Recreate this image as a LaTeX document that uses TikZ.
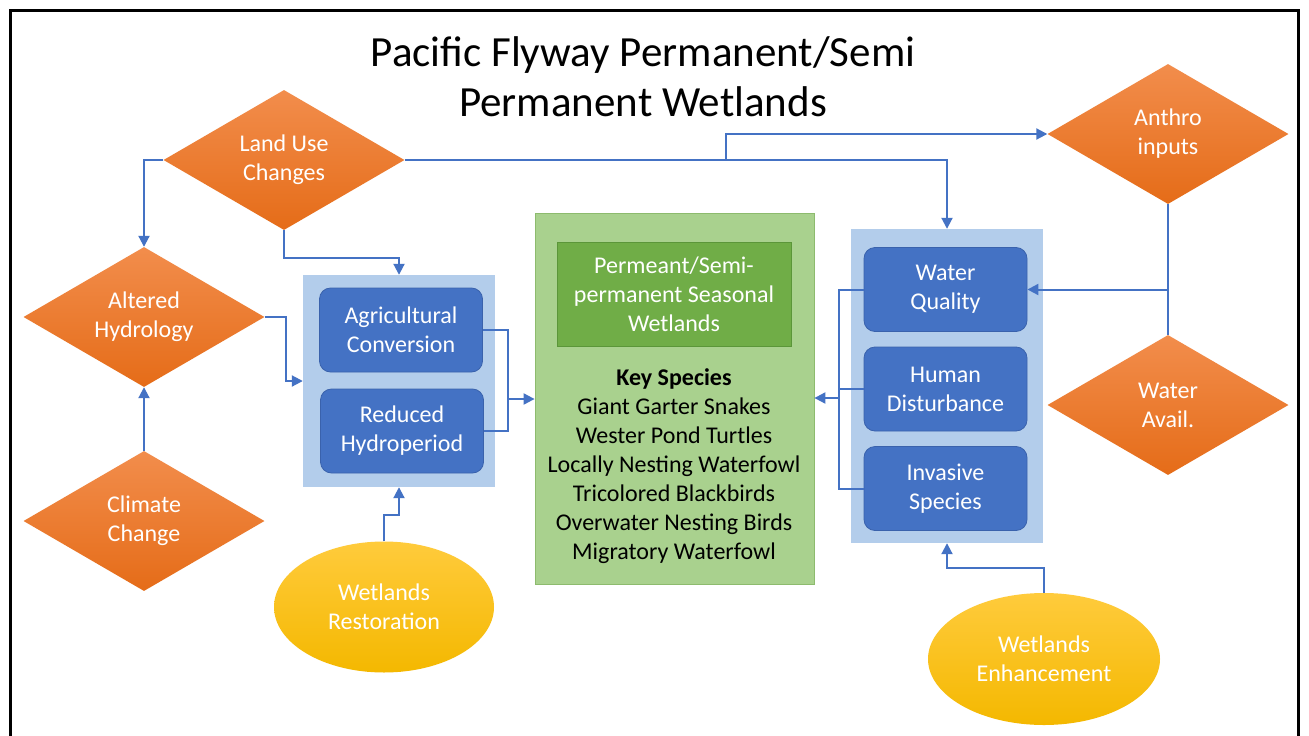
\documentclass[tikz,border=0pt]{standalone}
\usepackage{fontspec}
\setmainfont{Carlito}
\usepackage{tikz}
\usetikzlibrary{shapes.geometric,arrows.meta}
\definecolor{arrowblue}{HTML}{4472C4}
\definecolor{boxblue}{HTML}{4472C4}
\definecolor{boxedge}{HTML}{3A62AC}
\definecolor{paleblue}{HTML}{B3CDEB}
\definecolor{orangetop}{HTML}{F28D4C}
\definecolor{orangebot}{HTML}{E56C18}
\definecolor{palegreen}{HTML}{A9D18E}
\definecolor{greenedge}{HTML}{8DBB6E}
\definecolor{darkgreen}{HTML}{70AD47}
\definecolor{darkgreenedge}{HTML}{5B9639}
\definecolor{yellowtop}{HTML}{FFCB3C}
\definecolor{yellowbot}{HTML}{F4B800}
\tikzset{
  txt/.style={font=\fontsize{24}{29}\selectfont, align=center},
  driver/.style={diamond, aspect=1.72, txt, text=white, inner sep=0pt,
    minimum width=241pt, minimum height=140pt, top color=orangetop, bottom color=orangebot},
  action/.style={ellipse, txt, text=white, inner sep=0pt,
    top color=yellowtop, bottom color=yellowbot},
  group/.style={rectangle, fill=paleblue, inner sep=0pt},
  stressor/.style={rectangle, rounded corners=11pt, txt, text=white, fill=boxblue,
    draw=boxedge, line width=0.8pt, inner sep=0pt, minimum width=163pt, minimum height=84pt},
  arr/.style={draw=arrowblue, line width=2pt, -{Triangle[length=11pt,width=11pt]}},
  link/.style={draw=arrowblue, line width=2pt}
}
\begin{document}
\begin{tikzpicture}[x=1pt,y=-1pt]
        \useasboundingbox (0,0) rectangle (1309,736);
        \fill[white] (0,0) rectangle (1309,736);
        \draw[line width=3pt] (10,736) -- (10,10) -- (1298,10) -- (1298,736);

        \node[font=\fontsize{43}{50}\selectfont, align=center] (title) at (643,77)
            {Pacific Flyway Permanent/Semi\\Permanent Wetlands};

        \node[driver] (landuse) at (284,160) {Land Use\\Changes};
        \node[driver] (altered) at (144,317) {Altered\\Hydrology};
        \node[driver] (climate) at (144,521) {Climate\\Change};
        \node[driver] (anthro) at (1168,134) {Anthro\\inputs};
        \node[driver] (wavail) at (1168,405) {Water\\Avail.};

        \node[action, minimum width=220pt, minimum height=131pt] (restore) at (384,607) {Wetlands\\Restoration};
        \node[action, minimum width=232pt, minimum height=132pt] (enhance) at (1044,659) {Wetlands\\Enhancement};

        \node[group, minimum width=192pt, minimum height=212pt] (lbox) at (399,381) {};
        \node[stressor] (agri) at (401,330) {Agricultural\\Conversion};
        \node[stressor] (reduced) at (402,431) {Reduced\\Hydroperiod};

        \node[rectangle, fill=palegreen, draw=greenedge, line width=0.8pt,
            minimum width=279pt, minimum height=371pt] (wetland) at (674.5,398.5) {};
        \node[rectangle, fill=darkgreen, draw=darkgreenedge, line width=0.8pt, txt, text=white,
            minimum width=234pt, minimum height=104pt, inner sep=0pt] (habitat) at (674,294)
            {Permeant/Semi-\\permanent Seasonal\\Wetlands};
        \node[txt] (species) at (674,466) {\textbf{Key Species}\\Giant Garter Snakes\\Wester Pond Turtles\\
            Locally Nesting Waterfowl\\Tricolored Blackbirds\\Overwater Nesting Birds\\Migratory Waterfowl};

        \node[group, minimum width=192pt, minimum height=314pt] (rbox) at (947,386) {};
        \node[stressor] (quality) at (945.5,289.5) {Water\\Quality};
        \node[stressor] (disturb) at (945.5,389) {Human\\Disturbance};
        \node[stressor] (invasive) at (945.5,488.5) {Invasive\\Species};

        \coordinate (split) at (726,160);
        \coordinate (ljoin) at (508,399);
        \coordinate (rjoin) at (839,398);
        \coordinate (ajoin) at (anthro.south |- quality.east);

        \draw[arr] (landuse.west) -| (altered.north);
        \draw[arr] (landuse.south) -- ++(0,28) -| (lbox.north);
        \draw[arr] (landuse.east) -| (rbox.north);
        \draw[arr] (split) |- (anthro.west);
        \draw[arr] (altered.east) -- ++(21,0) |- (lbox.west);
        \draw[arr] (climate.north) -- (altered.south);

        \draw[link] (agri.east) -| (ljoin);
        \draw[link] (reduced.east) -| (ljoin);
        \draw[arr] (ljoin) -- (wetland.west |- ljoin);
        \draw[arr] (restore.north) -- ++(0,-26) -| (lbox.south);

        \draw[link] (quality.west) -- ++(-25,0) |- (invasive.west);
        \draw[link] (disturb.west) -- ++(-25,0);
        \draw[arr] (rjoin) -- (wetland.east |- rjoin);
        \draw[link] (anthro.south) -- (wavail.north);
        \draw[arr] (ajoin) -- (quality.east);
        \draw[arr] (enhance.north) -- ++(0,-25) -| (rbox.south);
    \end{tikzpicture}
\end{document}
